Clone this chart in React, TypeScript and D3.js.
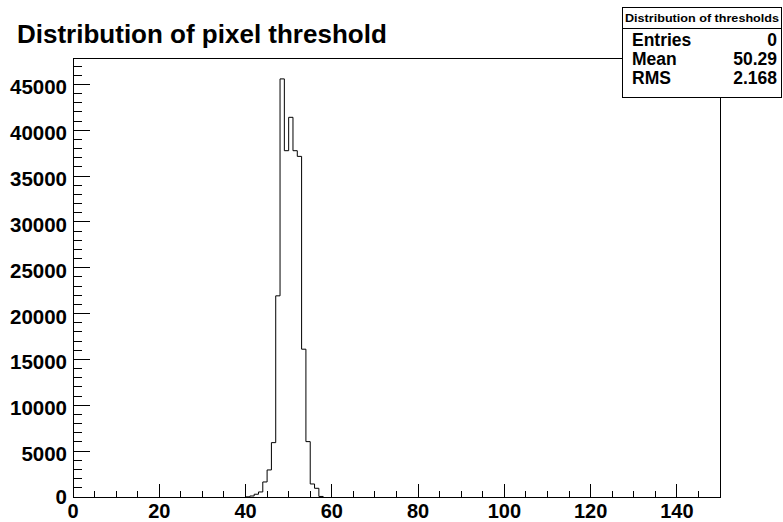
import React from "react";
import * as d3 from "d3";

const binLow = [40, 41, 42, 43, 44, 45, 46, 47, 48, 49, 50, 51, 52, 53, 54, 55, 56, 57];
const counts = [20, 110, 300, 550, 1640, 2950, 5930, 21940, 45600, 37770, 41410, 37770, 37150, 16120, 6040, 1420, 950, 60];
const binWidth = 1;
const xMajorTicks = [0, 20, 40, 60, 80, 100, 120, 140];
const yMajorTicks = [0, 5000, 10000, 15000, 20000, 25000, 30000, 35000, 40000, 45000];
const titleText = "Distribution of pixel threshold";
const statsTitle = "Distribution of thresholds";
const statsLabels = ["Entries", "Mean", "RMS"];
const statsValues = ["0", "50.29", "2.168"];

const W = 783;
const H = 522;
const left = 73;
const right = 720;
const top = 58;
const bottom = 497;
const font = "'Liberation Sans', Arial, Helvetica, sans-serif";

export default function App() {
  const x = d3.scaleLinear().domain([0, 150]).range([left, right]);
  const yMax = d3.max(counts)! * 1.05;
  const y = d3.scaleLinear().domain([0, yMax]).range([bottom, top]);

  let d = `M${x(binLow[0])},${y(0)}`;
  binLow.forEach((b, i) => {
    d += `L${x(b)},${y(counts[i])}L${x(b + binWidth)},${y(counts[i])}`;
  });
  d += `L${x(binLow[binLow.length - 1] + binWidth)},${y(0)}`;

  const xMinor = d3.range(0, 151, 5);
  const yMinor = d3.range(0, yMax, 1000);

  return (
    <svg width={W} height={H} style={{ position: "absolute", left: 0, top: 0, background: "#fff" }}>
      <rect x={0} y={0} width={W} height={H} fill="#fff" />
      <text x={17} y={43} fontFamily={font} fontWeight="bold" fontSize={26} fill="#000">
        {titleText}
      </text>
      <rect x={left} y={top} width={right - left} height={bottom - top} fill="none" stroke="#000" strokeWidth={1} shapeRendering="crispEdges" />
      <path d={d} fill="none" stroke="#000" strokeWidth={1} />
      {xMinor.map((v) => {
        const major = v % 20 === 0;
        return (
          <line key={"xt" + v} x1={x(v)} x2={x(v)} y1={bottom} y2={bottom - (major ? 13 : 6.5)} stroke="#000" strokeWidth={1} shapeRendering="crispEdges" />
        );
      })}
      {xMajorTicks.map((v) => (
        <text key={"xl" + v} x={x(v)} y={518} textAnchor="middle" fontFamily={font} fontWeight="bold" fontSize={20} fill="#000">
          {v}
        </text>
      ))}
      {yMinor.map((v) => {
        const major = v % 5000 === 0;
        return (
          <line key={"yt" + v} x1={left} x2={left + (major ? 17 : 8.5)} y1={y(v)} y2={y(v)} stroke="#000" strokeWidth={1} shapeRendering="crispEdges" />
        );
      })}
      {yMajorTicks.map((v) => (
        <text key={"yl" + v} x={67} y={y(v) + (v === 0 ? 7 : 10)} textAnchor="end" fontFamily={font} fontWeight="bold" fontSize={20.5} fill="#000">
          {v}
        </text>
      ))}
      <rect x={622.5} y={7.5} width={159} height={89.5} fill="#fff" stroke="#000" strokeWidth={1} shapeRendering="crispEdges" />
      <line x1={622.5} x2={781.5} y1={28.5} y2={28.5} stroke="#000" strokeWidth={1} shapeRendering="crispEdges" />
      <text x={702} y={22} textAnchor="middle" fontFamily={font} fontWeight="bold" fontSize={11.5} textLength={154} lengthAdjust="spacingAndGlyphs" fill="#000">
        {statsTitle}
      </text>
      {statsLabels.map((l, i) => (
        <g key={l}>
          <text x={632} y={46 + i * 19.2} fontFamily={font} fontWeight="bold" fontSize={17.5} fill="#000">
            {l}
          </text>
          <text x={777} y={46 + i * 19.2} textAnchor="end" fontFamily={font} fontWeight="bold" fontSize={17.5} fill="#000">
            {statsValues[i]}
          </text>
        </g>
      ))}
    </svg>
  );
}
